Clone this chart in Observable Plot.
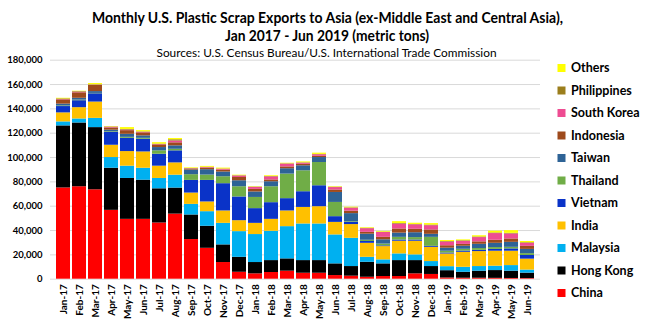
<!DOCTYPE html>
<html>
<head>
<meta charset="utf-8">
<script src="https://cdn.jsdelivr.net/npm/d3@7"></script>
<script src="https://cdn.jsdelivr.net/npm/@observablehq/plot@0.6"></script>
<style>
  html, body { margin: 0; padding: 0; background: #fff; }
  #wrap { position: relative; width: 650px; height: 321px; overflow: hidden; }
  #overlay { position: absolute; left: 0; top: 0; pointer-events: none; }
  #chart { position: absolute; left: 0; top: 0; }
</style>
</head>
<body>
<div id="wrap">
  <div id="chart"></div>
  <svg id="overlay" width="650" height="321"></svg>
</div>
<script>
const months = ["Jan-17","Feb-17","Mar-17","Apr-17","May-17","Jun-17","Jul-17","Aug-17","Sep-17","Oct-17","Nov-17","Dec-17",
  "Jan-18","Feb-18","Mar-18","Apr-18","May-18","Jun-18","Jul-18","Aug-18","Sep-18","Oct-18","Nov-18","Dec-18",
  "Jan-19","Feb-19","Mar-19","Apr-19","May-19","Jun-19"];

// stacking order, bottom to top
const countries = ["China","Hong Kong","Malaysia","India","Vietnam","Thailand","Taiwan","Indonesia","South Korea","Philippines","Others"];
const colors = ["#FF0000","#000000","#00B0F0","#FFC000","#0A33C8","#70AD47","#2E6396","#9E4A1C","#EE4C92","#9B7E1C","#FFFF00"];

const china      = [75000,76000,73500,56600,49200,49200,46200,53500,32600,25400,13700,5700,4400,5500,6600,4900,4900,3000,2500,1600,2200,2200,4400,3900,1000,800,800,700,600,500];
const hongKong   = [51000,52400,51100,34600,33600,32200,28100,21400,20200,18100,14500,12300,9300,9800,10100,10400,10400,9600,7900,12300,10400,13100,10900,6500,6000,4900,5800,6400,6000,4500];
const malaysia   = [3300,3300,7600,8800,10100,9800,8500,10600,8700,12000,17700,21100,23000,24100,26500,30100,30100,23800,23200,4100,3300,5500,4700,4100,3300,4100,3800,3600,4600,2500];
const india      = [7400,9300,13400,10100,12000,13400,10100,10100,9300,8000,10200,9000,9200,9800,12900,13600,14200,10300,11300,11500,10900,10400,11200,11700,10400,12300,12300,12300,11800,9000];
const vietnam    = [5200,5700,6800,10700,10900,10400,9800,9900,10400,17700,22400,19500,12100,13700,10100,12900,17200,4700,2000,1500,600,1000,1000,800,800,1000,1000,1500,1900,3000];
const thailand   = [500,500,300,500,800,800,2800,1300,4700,4400,5700,8400,9200,13100,20200,17200,19100,11700,500,1000,1500,2200,2000,7400,1500,1500,1500,1500,1300,1500];
const taiwan     = [1500,1500,1500,1200,2500,2000,2700,2800,3800,4400,3900,4900,4500,4100,4400,4100,4100,8200,6500,5000,3500,3500,4000,2500,2500,2500,3500,3500,4100,3500];
const indonesia  = [3500,4500,5000,1800,3000,2500,2200,2500,800,1200,1500,2700,2100,1500,1500,1200,1000,2000,2000,1500,2000,3400,2800,3600,2000,1500,2000,2500,2800,2500];
const southKorea = [300,500,300,600,500,500,300,1500,300,500,800,1200,1600,2500,2300,1000,1300,2000,2500,3000,4000,4000,3700,3500,3000,2500,3500,5500,4100,2500];
const philippines= [500,500,300,300,500,300,300,1000,200,300,200,300,300,300,300,300,300,300,300,300,300,500,300,500,500,500,500,500,500,500];
const others     = [500,300,1000,300,1500,1000,1200,1000,500,700,700,400,300,600,400,700,1000,400,500,500,600,1500,1000,1200,800,700,1000,1500,2200,1000];

const yTicks = [0,20000,40000,60000,80000,100000,120000,140000,160000,180000];

const titleLines = ["Monthly U.S. Plastic Scrap Exports to Asia (ex-Middle East and Central Asia),", "Jan 2017 - Jun 2019 (metric tons)"];
const subtitle = "Sources: U.S. Census Bureau/U.S. International Trade Commission";

const seriesValues = [china, hongKong, malaysia, india, vietnam, thailand, taiwan, indonesia, southKorea, philippines, others];
const data = months.flatMap((m, i) => countries.map((c, j) => ({month: m, country: c, value: seriesValues[j][i]})));

const font = "Lato, 'Open Sans', sans-serif";

const chart = Plot.plot({
  width: 650,
  height: 321,
  marginTop: 59.7,
  marginBottom: 42.3,
  marginLeft: 50,
  marginRight: 110,
  style: {fontFamily: font, fontWeight: 700, color: "#000", background: "transparent", overflow: "visible"},
  x: {domain: months, padding: 0.14, label: null},
  y: {domain: [0, 180000], label: null},
  color: {domain: countries, range: colors},
  marks: [
    Plot.gridY(yTicks, {stroke: "#D9D9D9", strokeOpacity: 1, strokeWidth: 1}),
    Plot.barY(data, {x: "month", y: "value", fill: "country", order: countries}),
    Plot.axisY(yTicks, {tickSize: 0, tickPadding: 8, tickFormat: d3.format(","), fontSize: 9.5, fontWeight: 700, fill: "#000", label: null}),
    Plot.axisX({tickSize: 0, tickPadding: 5, tickRotate: -90, fontSize: 10, fontWeight: 700, fill: "#000", label: null})
  ]
});
document.getElementById("chart").appendChild(chart);

// title, subtitle, legend overlay
const ov = d3.select("#overlay");
ov.append("text").attr("x", 327.5).attr("y", 22.5).attr("text-anchor", "middle")
  .attr("font-family", font).attr("font-weight", 700).attr("font-size", 15)
  .attr("textLength", 471).attr("lengthAdjust", "spacingAndGlyphs").attr("fill", "#000").text(titleLines[0]);
ov.append("text").attr("x", 327).attr("y", 40.5).attr("text-anchor", "middle")
  .attr("font-family", font).attr("font-weight", 700).attr("font-size", 15)
  .attr("textLength", 204).attr("lengthAdjust", "spacingAndGlyphs").attr("fill", "#000").text(titleLines[1]);
ov.append("text").attr("x", 326.5).attr("y", 56.5).attr("text-anchor", "middle")
  .attr("font-family", font).attr("font-weight", 400).attr("font-size", 11)
  .attr("textLength", 340).attr("lengthAdjust", "spacingAndGlyphs").attr("fill", "#000").text(subtitle);

const legendOrder = countries.slice().reverse();
legendOrder.forEach((c, i) => {
  const y = 68 + i * 22.5;
  const g = ov.append("g");
  g.append("rect").attr("x", 557.5).attr("y", y - 4).attr("width", 8).attr("height", 8)
    .attr("fill", colors[countries.indexOf(c)]);
  g.append("text").attr("x", 571).attr("y", y).attr("dy", "0.35em")
    .attr("font-family", font).attr("font-weight", 700).attr("font-size", 12.5).attr("fill", "#000").text(c);
});
</script>
</body>
</html>
